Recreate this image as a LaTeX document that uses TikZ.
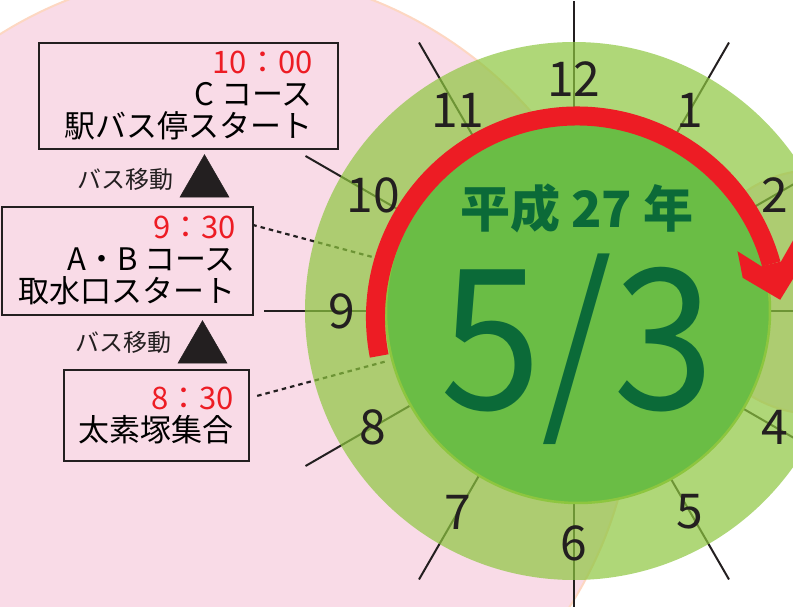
\documentclass[tikz,border=0pt]{standalone}
\usepackage{graphicx}
\usepackage{fontspec}
\setmainfont{Noto Sans CJK JP}
\usetikzlibrary{shapes.geometric}
\definecolor{pink1}{HTML}{F9DBE7}
\definecolor{pink2}{HTML}{FDD7C2}
\definecolor{green1}{HTML}{8DC63F}
\definecolor{green2}{HTML}{6ABD45}
\definecolor{green5}{HTML}{0B6A38}
\definecolor{red1}{HTML}{ED1C24}
\definecolor{ink}{HTML}{231F20}
\newcommand{\clocktime}[1]{{\color{red1}#1}}

\begin{document}
\begin{tikzpicture}[x=1pt, y=1pt,
  hourline/.style={draw=ink, line width=2},
  guideline/.style={draw=ink, line width=2.2, dash pattern=on 4.5pt off 4pt},
  hournum/.style={text=ink, inner sep=0, font=\fontsize{48}{48}\selectfont},
  coursebox/.style={draw=ink, line width=2, align=right, inner sep=0, font=\fontsize{31}{32}\selectfont},
  busmark/.style={regular polygon, regular polygon sides=3, fill=ink, draw=ink, line width=0.5, minimum size=56.6, inner sep=0},
  buslabel/.style={text=ink, inner sep=0, anchor=east, font=\fontsize{24}{24}\selectfont}]
\useasboundingbox (-574,-296) rectangle (219,311);
\clip (-574,-296) rectangle (219,311);
% background discs
\filldraw[fill=pink1, draw=pink2, line width=2] (-354,-74) circle (414);
\filldraw[fill=pink1, draw=pink2, line width=2] (241,19) circle (122);
% hour ticks and guides
\foreach \h in {1,...,12}
  \draw[hourline] (90-30*\h:190) -- (90-30*\h:310);
\coordinate (in930) at (165:195);
\coordinate (out930) at (165:333);
\coordinate (in830) at (195:195);
\coordinate (out830) at (195:328);
\draw[guideline] (out930) -- (in930);
\draw[guideline] (out830) -- (in830);
% clock face
\fill[green1, opacity=0.7] (0,0) circle (269);
\filldraw[fill=green2, draw=green1, line width=2.5] (4,0) circle (192);
% red arrow
\draw[red1, line width=19] (3,-6.5) ++(191:201.5) arc[start angle=191, end angle=15.4, radius=201.5] coordinate (arcend);
\fill[red1, shift={(arcend)}, rotate=-76] (0,-10) -- (-20.6,-29.7) -- (6.5,-31) -- (36.9,0)
  -- (6.5,31) -- (-20.6,29.7) -- (0,10) -- cycle;
% numbers (3 is off the page)
\foreach \h in {1,2,4,5,6,7,8,9,10,11,12}
  \node[hournum] (h\h) at (90-30*\h:232) {\h};
\node[text=green5, inner sep=0, font=\bfseries\fontsize{50}{50}\selectfont] (year) at (3,103) {平成 27 年};
\node[text=green5, inner sep=0, text height=148pt, text depth=14pt, font=\fontsize{196}{196}\selectfont] (date) at (3.5,-32) {\scalebox{0.93}[1]{5/3}};
% schedule
\node[coursebox, minimum width=299, minimum height=106] (c) at (-385.5,215) {\clocktime{10：00}\\C コース\\駅バス停スタート};
\node[coursebox, minimum width=251, minimum height=108] (ab) at (-446.5,50) {\clocktime{9：30}\\A・B コース\\取水口スタート};
\node[coursebox, minimum width=185, minimum height=91] (meet) at (-417.5,-104.5) {\clocktime{8：30}\\太素塚集合};
\node[busmark] (up1) at (-369.5,128) {};
\node[busmark] (up2) at (-371.5,-38) {};
\node[buslabel] (bus1) at (-400,132) {バス移動};
\node[buslabel] (bus2) at (-402,-31) {バス移動};
\end{tikzpicture}
\end{document}
